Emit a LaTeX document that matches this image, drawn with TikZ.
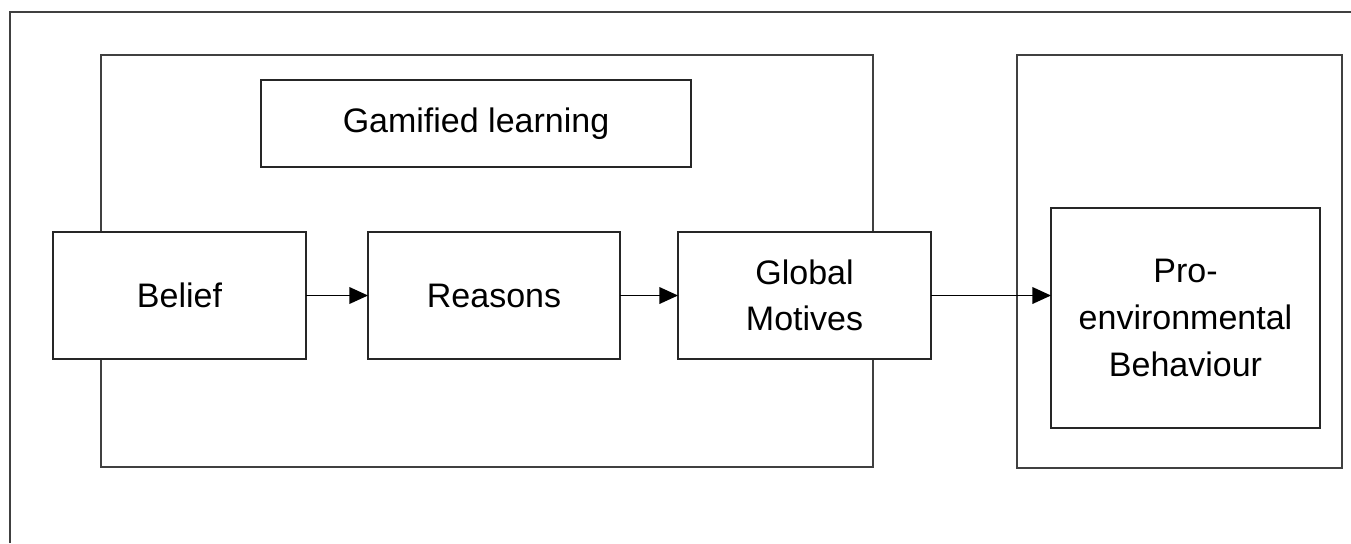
\documentclass[tikz,border=0pt]{standalone}
\usepackage{fontspec}
\setmainfont{Liberation Sans}
\usetikzlibrary{arrows.meta}
\begin{document}
\begin{tikzpicture}[x=0.75pt,y=-0.75pt,
  frame/.style={draw=black!75, line width=1.6pt},
  box/.style={draw=black!85, line width=1.4pt, fill=white, inner sep=0pt, outer sep=0pt,
    align=center, font=\fontsize{25.5}{35}\selectfont},
  container/.style={draw=black!75, line width=1.6pt, inner sep=0pt, outer sep=0pt},
  arr/.style={draw=black, line width=1.2pt, -{Triangle[length=14pt,width=12.5pt]}}]
\useasboundingbox (0,0) rectangle (1351,543);
% outer frame (cropped at right and bottom)
\coordinate (fbl) at (10,543);
\coordinate (ftl) at (10,12);
\coordinate (ftr) at (1351,12);
\draw[frame] (fbl) -- (ftl) -- (ftr);
% containers
\node[container, minimum width=579pt, minimum height=309pt] (left) at (487,261) {};
\node[container, minimum width=243.75pt, minimum height=309.75pt] (right) at (1179.5,261.5) {};
% boxes
\node[box, minimum width=322.5pt, minimum height=65.25pt] (game) at (476,123.5) {Gamified learning};
\node[box, minimum width=189.75pt, minimum height=95.25pt] (belief) at (179.5,295.5) {Belief};
\node[box, minimum width=189pt, minimum height=95.25pt] (reasons) at (494,295.5) {Reasons};
\node[box, minimum width=189.75pt, minimum height=95.25pt] (global) at (804.5,295.5) {Global\\Motives};
\node[box, minimum width=201.75pt, minimum height=165pt] (pro) at (1185.5,318) {Pro-\\environmental\\Behaviour};
% arrows
\draw[arr] (belief.east) -- (reasons.west);
\draw[arr] (reasons.east) -- (global.west);
\draw[arr] (global.east) -- (global.east -| pro.west);
\end{tikzpicture}
\end{document}
